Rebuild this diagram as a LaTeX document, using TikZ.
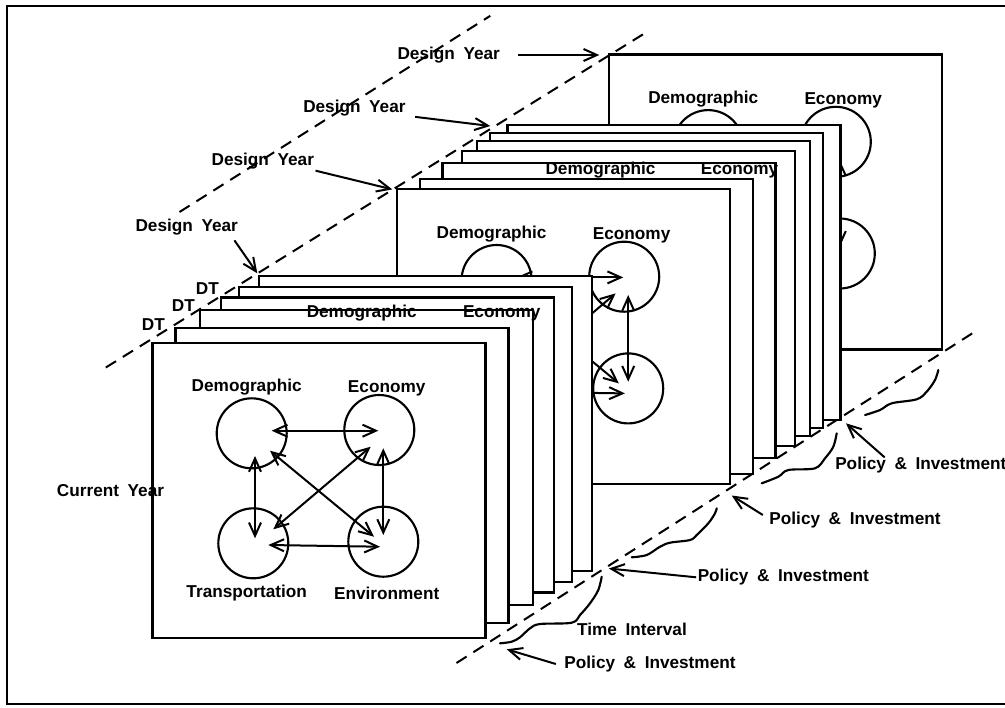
\documentclass[tikz,border=0pt]{standalone}
\usepackage{fontspec}
\newfontfamily\lblfont{Liberation Sans}
\usetikzlibrary{arrows.meta,calc}
\newcommand\lblset{\lblfont\bfseries\fontsize{12.9}{15}\selectfont\spaceskip=0.5em\relax}
\tikzset{
  sheet/.style={draw, fill=white, line width=1.6pt, line join=miter},
  ring/.style={circle, draw, line width=1.6pt, minimum size=52.5pt, inner sep=0pt},
  lbl/.style={font=\lblset, inner sep=1pt},
  barb/.tip={Straight Barb[length=10pt,width=9pt,line width=1.5pt]},
  link/.style={line width=1.5pt, barb-barb},
  ptr/.style={line width=1.5pt, -barb},
  guide/.style={line width=1.5pt, dash pattern=on 9pt off 6pt},
  squig/.style={line width=1.6pt, line cap=round, line join=round},
}
% a sheet with the sector circles and their interactions
% #1 name prefix, #2 top-left corner, #3 = 1 to print the lower sector names
\newcommand\fullsheet[3]{%
  \begin{scope}[shift={(#2)}, name prefix=#1-]
    \draw[sheet] (0,0) rectangle (333,295);
    \node[lbl] (ldem) at (94.2,44.6) {Demographic};
    \node[lbl] (leco) at (234.2,45.6) {Economy};
    \ifnum#3=1
      \node[lbl] (ltra) at (94.2,250.6) {Transportation};
      \node[lbl] (lenv) at (234.2,250.6) {Environment};
    \fi
    \node[ring] (dem) at (99.2,90.6) {};
    \node[ring] (eco) at (226.8,87.3) {};
    \node[ring] (tra) at (100.8,200.6) {};
    \node[ring] (env) at (230.8,199) {};
    \coordinate (de) at (119.2,88);    \coordinate (ed) at (225.8,88);
    \coordinate (te) at (115.8,202.3); \coordinate (et) at (227.5,204);
    \coordinate (dt) at (102.5,113.3); \coordinate (td) at (102.5,195.6);
    \coordinate (ev) at (230.8,105.6); \coordinate (ve) at (230.8,192.3);
    \coordinate (dv) at (117.5,108);   \coordinate (vd) at (221.5,194);
    \coordinate (ct) at (218.2,104);   \coordinate (tc) at (120.8,186.6);
    \draw[link] (de) -- (ed);
    \draw[link] (te) -- (et);
    \draw[link] (dt) -- (td);
    \draw[link] (ev) -- (ve);
    \draw[link] (dv) -- (vd);
    \draw[link] (ct) -- (tc);
  \end{scope}}
% a sheet seen only by its edge strip
\newcommand\blanksheet[1]{\draw[sheet] (#1) rectangle ++(333,295);}

\begin{document}
\begin{tikzpicture}[x=0.75pt,y=-0.75pt]
\useasboundingbox (0,0) rectangle (1005,707);
% frame
\draw[line width=1.6pt] (1006,6) -- (7,6) -- (7,704) -- (1006,704);

% time axes
\coordinate (ua) at (179.5,212);  \coordinate (ub) at (490.3,15.8);
\coordinate (ma) at (105.8,367.5); \coordinate (mb) at (647.4,31.6);
\coordinate (la) at (456.5,663);  \coordinate (lb) at (977.5,330);
\draw[guide] (ua) -- (ub);
\draw[guide] (ma) -- (mb);
\draw[guide] (la) -- (lb);

% design year sheet
\fullsheet{C}{609,54.5}{0}

% middle stack
\blanksheet{507.5,125}
\blanksheet{490.3,133}
\blanksheet{477,141.2}
\blanksheet{461.6,151}
\blanksheet{442.5,163}
\node[lbl] (bdem) at (600.5,170) {Demographic};
\node[lbl] (beco) at (739.5,170) {Economy};
\blanksheet{419.8,178.7}
\fullsheet{B}{397.4,189.4}{0}

% front stack
\blanksheet{259,276}
\blanksheet{239,287}
\blanksheet{221.3,297.5}
\blanksheet{200,310.2}
\node[lbl] (adem) at (361.7,312.7) {Demographic};
\node[lbl] (aeco) at (501.7,313.3) {Economy};
\blanksheet{175.5,327.8}
\fullsheet{A}{152.5,342.7}{1}

% labels
\node[lbl] (cy) at (110.5,491) {Current Year};
\node[lbl] (dt1) at (153.3,324.3) {DT};
\node[lbl] (dt2) at (183.3,306) {DT};
\node[lbl] (dt3) at (207.3,288.3) {DT};
\node[lbl] (dy1) at (186.7,226.7) {Design Year};
\node[lbl] (dy2) at (262.8,161) {Design Year};
\node[lbl] (dy3) at (354.4,108.2) {Design Year};
\node[lbl] (dy4) at (448.7,55) {Design Year};
\node[lbl] (ti) at (632,629.3) {Time Interval};
\node[lbl] (pi1) at (650,664) {Policy \& Investment};
\node[lbl] (pi2) at (783.3,577.3) {Policy \& Investment};
\node[lbl] (pi3) at (855,520) {Policy \& Investment};
\node[lbl] (pi4) at (920.8,465) {Policy \& Investment};

% pointer targets
\coordinate (td1) at (257.3,273.3);
\coordinate (td2) at (392.3,189.4);
\coordinate (td3) at (490.3,126);
\coordinate (td4) at (599.3,55);
\coordinate (tp1) at (506.7,649.3);
\coordinate (tp2) at (608.8,568.5);
\coordinate (tp3) at (731.7,495.5);
\coordinate (tp4) at (846,423.3);

\draw[ptr] ($(dy1.south east)+(-5,4)$) -- (td1);
\draw[ptr] (dy2.south east) -- (td2);
\draw[ptr] ($(dy3.south east)+(8,-1)$) -- (td3);
\draw[ptr] ($(dy4.east)+(17,0)$) -- (td4);
\draw[ptr] ($(pi1.west)+(-7,0)$) -- (tp1);
\draw[ptr] (pi2.west) -- (tp2);
\draw[ptr] ($(pi3.west)+(-5,-5)$) -- (tp3);
\draw[ptr] ($(pi4.north west)+(51,2)$) -- (tp4);

% interval braces
\draw[squig] plot[smooth, tension=0.55] coordinates {(500,643.3) (511.7,641.7) (520,637.3) (530,628.3) (540,624) (571.7,622.7) (580,615) (590,603.3) (598.3,590) (601.7,576.7)};
\draw[squig] plot[smooth, tension=0.55] coordinates {(631.7,557.3) (646.7,555) (660,546.7) (670,542.7) (690,540) (696.7,535) (708.3,523.3) (715,513.3) (716.7,508.3)};
\draw[squig] plot[smooth, tension=0.55] coordinates {(761.7,483.3) (778.3,476.7) (788.3,470) (815,468.3) (825,458.3) (833.3,446.7) (836.7,433.3)};
\draw[squig] plot[smooth, tension=0.55] coordinates {(865,415) (880,410) (891.7,403.3) (916.7,399.3) (926.7,391.7) (935,380) (938.3,370)};
\end{tikzpicture}
\end{document}
